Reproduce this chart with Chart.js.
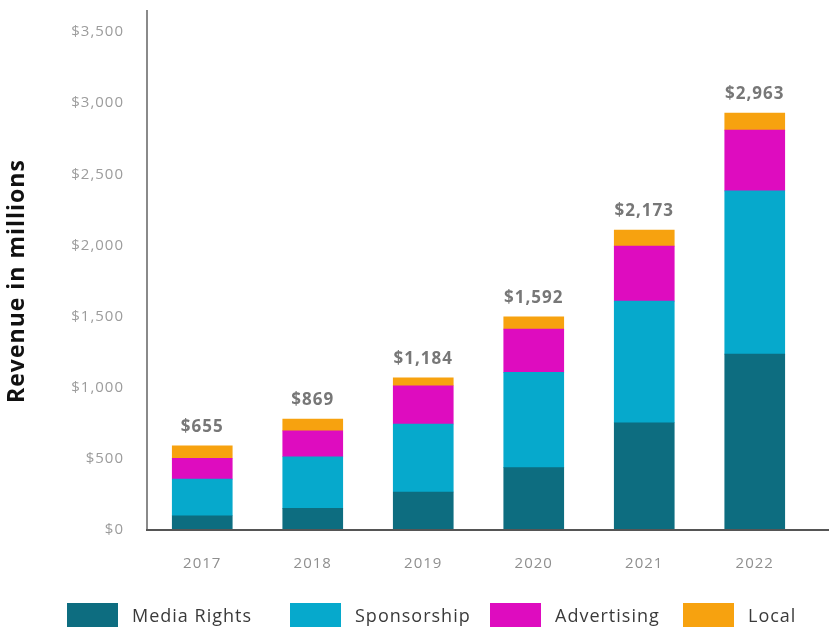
<!DOCTYPE html>
<html>
<head>
<meta charset="utf-8">
<script src="https://cdn.jsdelivr.net/npm/chart.js@4.4.1/dist/chart.umd.min.js"></script>
<style>
  html, body { margin: 0; padding: 0; background: #ffffff; }
  #wrap { width: 829px; height: 627px; position: relative; }
</style>
</head>
<body>
<div id="wrap"><canvas id="c" width="829" height="627"></canvas></div>
<script>
const years = ['2017', '2018', '2019', '2020', '2021', '2022'];
const mediaRights = [100, 152, 267, 438, 754, 1236];
const sponsorship = [258, 363, 478, 670, 854, 1147];
const advertising = [146, 182, 269, 304, 387, 427];
const local = [88, 83, 56, 86, 112, 121];
const totalLabels = ['$655', '$869', '$1,184', '$1,592', '$2,173', '$2,963'];
const seriesNames = ['Media Rights', 'Sponsorship', 'Advertising', 'Local'];
const seriesColors = ['#0d6d80', '#06a9cc', '#de0cbf', '#f7a20f'];
const yTickValues = [0, 500, 1000, 1500, 2000, 2500, 3000, 3500];

const FONT = "'Open Sans', 'Lato', sans-serif";

const spacingPlugin = {
  id: 'spacing',
  beforeDraw(chart) {
    chart.ctx.letterSpacing = '1px';
  }
};

const totalsPlugin = {
  id: 'totals',
  afterDatasetsDraw(chart) {
    const ctx = chart.ctx;
    const y = chart.scales.y;
    const meta0 = chart.getDatasetMeta(0);
    ctx.save();
    ctx.letterSpacing = '1px';
    ctx.font = "bold 17px " + FONT;
    ctx.fillStyle = '#777777';
    ctx.textAlign = 'center';
    ctx.textBaseline = 'middle';
    years.forEach((yr, i) => {
      const sum = mediaRights[i] + sponsorship[i] + advertising[i] + local[i];
      const px = meta0.data[i].x;
      const py = y.getPixelForValue(sum) - 19;
      ctx.fillText(totalLabels[i], px, py);
    });
    ctx.restore();
  }
};

const axisLinesPlugin = {
  id: 'axisLines',
  afterDraw(chart) {
    const ctx = chart.ctx;
    const a = chart.chartArea;
    ctx.save();
    // y axis line, running above the top tick
    ctx.strokeStyle = '#8a8a8a';
    ctx.lineWidth = 2;
    ctx.beginPath();
    ctx.moveTo(a.left, a.bottom);
    ctx.lineTo(a.left, 10);
    ctx.stroke();
    // x axis line, running to the right edge
    ctx.strokeStyle = '#555555';
    ctx.beginPath();
    ctx.moveTo(a.left - 1, a.bottom);
    ctx.lineTo(chart.width, a.bottom);
    ctx.stroke();
    ctx.restore();
  }
};

const legendPlugin = {
  id: 'customLegend',
  afterDraw(chart) {
    const ctx = chart.ctx;
    const starts = [67, 290, 490, 683];
    ctx.save();
    ctx.letterSpacing = '1px';
    ctx.font = "18px " + FONT;
    ctx.textBaseline = 'middle';
    ctx.textAlign = 'left';
    const top = 603;
    const boxW = 51, boxH = 26, gap = 14;
    chart.data.datasets.forEach((ds, k) => {
      const x = starts[k];
      ctx.fillStyle = ds.backgroundColor;
      ctx.fillRect(x, top, boxW, boxH);
      ctx.fillStyle = '#3a3a3a';
      ctx.fillText(ds.label, x + boxW + gap, top + 14);
    });
    ctx.restore();
  }
};

const seriesData = [mediaRights, sponsorship, advertising, local];

new Chart(document.getElementById('c'), {
  type: 'bar',
  data: {
    labels: years,
    datasets: seriesNames.map((name, k) => ({
      label: name,
      data: seriesData[k],
      backgroundColor: seriesColors[k],
      borderWidth: 0,
      barThickness: 60
    }))
  },
  options: {
    responsive: false,
    animation: false,
    devicePixelRatio: 1,
    layout: { padding: { top: 10, right: 19, bottom: 0, left: 0 } },
    plugins: {
      legend: { display: false },
      tooltip: { enabled: false }
    },
    scales: {
      x: {
        stacked: true,
        grid: { display: false, drawTicks: false },
        border: { display: false },
        ticks: { color: '#8f8f8f', font: { family: FONT, size: 15 }, padding: 25 },
        afterFit(scale) { scale.height = 97; }
      },
      y: {
        stacked: true,
        min: 0,
        max: 3500,
        grid: { display: false, drawTicks: false },
        border: { display: false },
        afterBuildTicks(scale) {
          scale.ticks = yTickValues.map(v => ({ value: v }));
        },
        ticks: {
          color: '#9c9c9c',
          font: { family: FONT, size: 15 },
          padding: 23,
          callback: v => '$' + Number(v).toLocaleString('en-US')
        },
        title: {
          display: true,
          text: 'Revenue in millions',
          color: '#111111',
          font: { family: FONT, size: 23, weight: 'bold' },
          padding: { top: 4, bottom: 0 }
        },
        afterFit(scale) { scale.width = 147; }
      }
    }
  },
  plugins: [spacingPlugin, totalsPlugin, axisLinesPlugin, legendPlugin]
});
</script>
</body>
</html>
